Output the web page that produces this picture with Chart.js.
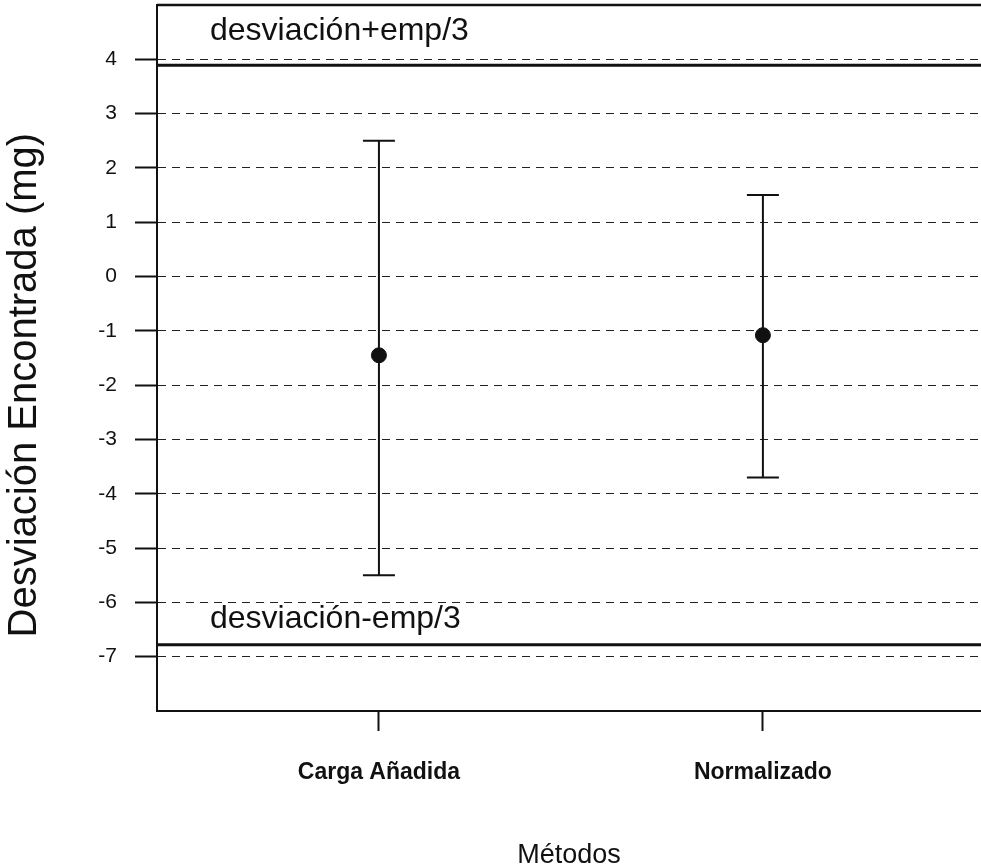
<!DOCTYPE html>
<html>
<head>
<meta charset="utf-8">
<script src="https://cdn.jsdelivr.net/npm/chart.js@4/dist/chart.umd.min.js"></script>
<style>
  html, body { margin: 0; padding: 0; background: #fff; }
  canvas { display: block; }
</style>
</head>
<body>
<canvas id="grafico" width="981" height="866"></canvas>
<script>
// Datos
const metodos = ['Carga Añadida', 'Normalizado'];
const desviacion = [-1.45, -1.08];
const limiteSup = [2.5, 1.5];
const limiteInf = [-5.5, -3.7];
const ticksY = [-7, -6, -5, -4, -3, -2, -1, 0, 1, 2, 3, 4];

// Límites de aceptación (desviación ± emp/3)
const refSuperior = 3.89;
const refInferior = -6.78;
const etiquetaSuperior = 'desviación+emp/3';
const etiquetaInferior = 'desviación-emp/3';
const tituloY = 'Desviación Encontrada (mg)';

const xMin = 0.422;
const xMax = 2.568;
const fuente = '"Liberation Sans", Arial, sans-serif';
const negro = '#111';

// Barras de error, marco superior, título del eje Y y etiquetas de los límites
const barrasError = {
    id: 'barrasError',
    afterDatasetsDraw(chart) {
        const ctx = chart.ctx;
        const x = chart.scales.x;
        const y = chart.scales.y;
        const area = chart.chartArea;

        ctx.save();
        ctx.strokeStyle = negro;
        ctx.lineWidth = 2;
        metodos.forEach((m, i) => {
            const px = x.getPixelForValue(i + 1);
            const top = y.getPixelForValue(limiteSup[i]);
            const bottom = y.getPixelForValue(limiteInf[i]);
            ctx.beginPath();
            ctx.moveTo(px, top);
            ctx.lineTo(px, bottom);
            ctx.moveTo(px - 16, top);
            ctx.lineTo(px + 16, top);
            ctx.moveTo(px - 16, bottom);
            ctx.lineTo(px + 16, bottom);
            ctx.stroke();
        });

        // línea superior del marco
        ctx.lineWidth = 2.5;
        ctx.beginPath();
        ctx.moveTo(area.left, area.top);
        ctx.lineTo(area.right, area.top);
        ctx.stroke();

        ctx.fillStyle = negro;
        ctx.font = '32px ' + fuente;
        ctx.textAlign = 'left';
        ctx.textBaseline = 'middle';
        ctx.fillText(etiquetaSuperior, x.getPixelForValue(0.56), y.getPixelForValue(4.52));
        ctx.fillText(etiquetaInferior, x.getPixelForValue(0.56), y.getPixelForValue(-6.3));

        // título del eje Y, algo desplazado hacia abajo como en el original
        ctx.translate(25, y.getPixelForValue(-2.0));
        ctx.rotate(-Math.PI / 2);
        ctx.textAlign = 'center';
        ctx.font = '40px ' + fuente;
        ctx.fillText(tituloY, 0, 0);
        ctx.restore();
    }
};

new Chart(document.getElementById('grafico'), {
    type: 'scatter',
    data: {
        datasets: [
            {
                label: 'Desviación',
                data: desviacion.map((v, i) => ({ x: i + 1, y: v })),
                backgroundColor: negro,
                borderColor: negro,
                pointRadius: 7.5,
                pointHoverRadius: 7.5
            },
            {
                type: 'line',
                label: etiquetaSuperior,
                data: [{ x: xMin, y: refSuperior }, { x: xMax, y: refSuperior }],
                borderColor: negro,
                borderWidth: 3,
                pointRadius: 0
            },
            {
                type: 'line',
                label: etiquetaInferior,
                data: [{ x: xMin, y: refInferior }, { x: xMax, y: refInferior }],
                borderColor: negro,
                borderWidth: 3,
                pointRadius: 0
            }
        ]
    },
    options: {
        responsive: false,
        animation: false,
        layout: { autoPadding: false, padding: { top: 5, right: 0, left: 0, bottom: 0 } },
        plugins: {
            legend: { display: false },
            tooltip: { enabled: false }
        },
        scales: {
            x: {
                type: 'linear',
                min: xMin,
                max: xMax,
                afterBuildTicks: scale => {
                    scale.ticks = metodos.map((m, i) => ({ value: i + 1 }));
                },
                afterFit: scale => {
                    scale.height = 155;
                    scale.paddingLeft = 0;
                    scale.paddingRight = 0;
                },
                ticks: {
                    callback: v => metodos[v - 1],
                    color: negro,
                    font: { family: fuente, size: 23, weight: 'bold' },
                    padding: 28,
                    maxRotation: 0
                },
                grid: {
                    drawOnChartArea: false,
                    tickLength: 20,
                    tickColor: negro,
                    tickWidth: 2
                },
                border: { color: negro, width: 2 },
                title: {
                    display: true,
                    text: 'Métodos',
                    color: negro,
                    font: { family: fuente, size: 27, lineHeight: 0.8 },
                    padding: { top: 0, bottom: 0 }
                }
            },
            y: {
                min: -8,
                max: 5,
                afterBuildTicks: scale => {
                    scale.ticks = ticksY.map(v => ({ value: v }));
                },
                afterFit: scale => {
                    scale.width = 157;
                    scale.paddingTop = 0;
                    scale.paddingBottom = 0;
                },
                ticks: {
                    color: negro,
                    font: { family: fuente, size: 21 },
                    padding: 18
                },
                grid: {
                    color: '#222',
                    lineWidth: 1,
                    tickLength: 22,
                    tickColor: negro,
                    tickWidth: 2,
                    tickBorderDash: []
                },
                border: { color: negro, width: 2, dash: [8, 6] }
            }
        }
    },
    plugins: [barrasError]
});
</script>
</body>
</html>
